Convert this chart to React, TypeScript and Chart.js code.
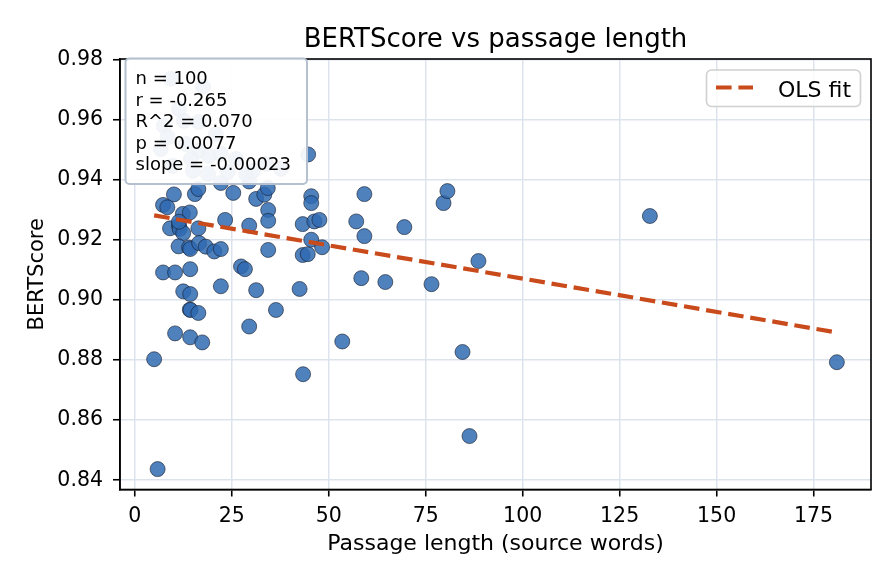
import { useEffect, useRef } from "react";
import { Chart, registerables } from "chart.js";

Chart.register(...registerables);

// passage length (source words) and BERTScore, one entry per passage
const passageLength = [
  10.1, 15.5, 16.4, 22.2, 25.4, 29.5, 31.3, 33.4, 34.3, 34.4,
  34.4, 45.5, 45.5, 59.2, 7.3, 8.4, 12.4, 14.2, 9.1, 11.4,
  11.6, 12.5, 16.4, 23.3, 29.5, 43.3, 46.3, 47.6, 57.1, 59.2,
  11.3, 14.0, 14.3, 16.6, 18.3, 20.5, 22.2, 34.4, 43.3, 44.6,
  45.5, 48.3, 7.3, 10.4, 14.3, 27.4, 28.4, 58.4, 12.5, 14.3,
  22.2, 31.3, 42.5, 14.2, 14.4, 16.4, 36.4, 29.5, 10.4, 14.3,
  17.4, 53.5, 5.0, 5.9, 44.7, 43.4, 64.6, 69.5, 76.5, 79.6,
  80.6, 84.5, 86.3, 88.6, 132.8, 181.0, 11.4,
  9.3, 17.6, 7.5, 12.7, 16.5, 8.5, 13.2, 16.5, 19.1, 22.2,
  9.8, 15.0, 18.9, 24.0, 28.7, 30.5, 11.4, 20.9, 26.1, 6.7,
  33.9, 14.5, 37.7,
];
const bertScore = [
  0.9352, 0.9353, 0.937, 0.939, 0.9357, 0.9395, 0.9337, 0.9351, 0.9373, 0.93,
  0.9264, 0.9346, 0.9323, 0.9353, 0.9317, 0.9309, 0.9287, 0.9292, 0.9239, 0.9248,
  0.9237, 0.9223, 0.9239, 0.9267, 0.9248, 0.9253, 0.9262, 0.9267, 0.9262, 0.9213,
  0.9179, 0.9175, 0.917, 0.919, 0.9178, 0.9162, 0.917, 0.9167, 0.915, 0.9153,
  0.9201, 0.9176, 0.9092, 0.9092, 0.9103, 0.9112, 0.9103, 0.9073, 0.9029, 0.902,
  0.9046, 0.9033, 0.9037, 0.8968, 0.8967, 0.8957, 0.8967, 0.8912, 0.8889, 0.8876,
  0.8859, 0.8862, 0.8803, 0.8437, 0.9485, 0.8753, 0.906, 0.9243, 0.9053, 0.9323,
  0.9363, 0.8827, 0.8547, 0.913, 0.928, 0.8793, 0.9261,
  0.9737, 0.971, 0.958, 0.9597, 0.9593, 0.9543, 0.952, 0.9497, 0.948, 0.9487,
  0.9447, 0.943, 0.942, 0.9427, 0.942, 0.943, 0.9637, 0.9553, 0.947, 0.9503,
  0.9453, 0.947, 0.9437,
];

// OLS fit line endpoints
const fitX = [5, 181];
const fitY = [0.9282, 0.8892];

const xTicks = [0, 25, 50, 75, 100, 125, 150, 175];
const yTicks = [0.84, 0.86, 0.88, 0.9, 0.92, 0.94, 0.96, 0.98];

const statLines = ["n = 100", "r = -0.265", "R^2 = 0.070", "p = 0.0077", "slope = -0.00023"];
const titleText = "BERTScore vs passage length";
const xLabel = "Passage length (source words)";
const yLabel = "BERTScore";
const legendLabel = "OLS fit";

const FONT = '"DejaVu Sans", sans-serif';
const FIT_COLOR = "#c94a1b";
const FIT_DASH = [15.6, 6.8];

const roundedBox = (ctx: CanvasRenderingContext2D, x: number, y: number, w: number, h: number, r: number) => {
  ctx.beginPath();
  ctx.moveTo(x + r, y);
  ctx.lineTo(x + w - r, y);
  ctx.arcTo(x + w, y, x + w, y + r, r);
  ctx.lineTo(x + w, y + h - r);
  ctx.arcTo(x + w, y + h, x + w - r, y + h, r);
  ctx.lineTo(x + r, y + h);
  ctx.arcTo(x, y + h, x, y + h - r, r);
  ctx.lineTo(x, y + r);
  ctx.arcTo(x, y, x + r, y, r);
  ctx.closePath();
};

const decorPlugin = {
  id: "decor",
  afterDraw(chart: any) {
    const { ctx, chartArea: a } = chart;
    const cx = (a.left + a.right) / 2;
    ctx.save();

    // spines
    ctx.strokeStyle = "#000";
    ctx.lineWidth = 1.6;
    ctx.strokeRect(a.left, a.top, a.right - a.left, a.bottom - a.top);

    // stats box (semi-transparent, points behind show faintly)
    roundedBox(ctx, 125.5, 58.5, 181.5, 125.5, 4);
    ctx.fillStyle = "rgba(255,255,255,0.93)";
    ctx.fill();
    ctx.strokeStyle = "#b4c0d0";
    ctx.lineWidth = 2;
    ctx.stroke();
    ctx.fillStyle = "#000";
    ctx.font = `18px ${FONT}`;
    ctx.textAlign = "left";
    ctx.textBaseline = "alphabetic";
    statLines.forEach((t, i) => ctx.fillText(t, 135.5, 84 + i * 21.6));

    // legend
    roundedBox(ctx, 706.5, 70, 154, 36.5, 5);
    ctx.fillStyle = "rgba(255,255,255,0.8)";
    ctx.fill();
    ctx.strokeStyle = "#d0d0d0";
    ctx.lineWidth = 1.6;
    ctx.stroke();
    ctx.beginPath();
    ctx.setLineDash(FIT_DASH);
    ctx.strokeStyle = FIT_COLOR;
    ctx.lineWidth = 4.2;
    ctx.moveTo(716, 87.5);
    ctx.lineTo(753, 87.5);
    ctx.stroke();
    ctx.setLineDash([]);
    ctx.fillStyle = "#000";
    ctx.font = `22px ${FONT}`;
    ctx.fillText(legendLabel, 778, 96.5);

    // title and axis labels
    ctx.textAlign = "center";
    ctx.font = `26px ${FONT}`;
    ctx.fillText(titleText, cx, 46.5);
    ctx.font = `22px ${FONT}`;
    ctx.fillText(xLabel, cx, 550);
    ctx.translate(43, (a.top + a.bottom) / 2);
    ctx.rotate(-Math.PI / 2);
    ctx.font = `21px ${FONT}`;
    ctx.fillText(yLabel, 0, 0);

    ctx.restore();
  },
};

export default function App() {
  const canvasRef = useRef<HTMLCanvasElement | null>(null);

  useEffect(() => {
    if (!canvasRef.current) return;

    const points = passageLength.map((x, i) => ({ x, y: bertScore[i] }));
    const fit = fitX.map((x, i) => ({ x, y: fitY[i] }));
    const tickFont = { family: FONT, size: 20.5 };
    const grid = {
      color: "#dde3ec",
      lineWidth: 1.5,
      tickColor: "#000",
      tickLength: 7,
      tickWidth: 1.6,
    };

    const chart = new Chart(canvasRef.current, {
      type: "scatter",
      data: {
        datasets: [
          {
            type: "line",
            label: legendLabel,
            data: fit,
            borderColor: FIT_COLOR,
            borderWidth: 4.2,
            borderDash: FIT_DASH,
            borderCapStyle: "butt",
            pointRadius: 0,
            fill: false,
            order: 0,
          } as any,
          {
            label: "passages",
            data: points,
            backgroundColor: "rgba(48,107,177,0.85)",
            borderColor: "rgba(20,25,40,0.75)",
            borderWidth: 0.8,
            pointRadius: 7.5,
            order: 1,
          },
        ],
      },
      options: {
        responsive: false,
        animation: false,
        devicePixelRatio: 1,
        events: [],
        layout: { padding: { top: 59, right: 25, bottom: 0, left: 0 } },
        plugins: {
          legend: { display: false },
          title: { display: false },
          tooltip: { enabled: false },
        },
        scales: {
          x: {
            type: "linear",
            min: -3.8,
            max: 189.8,
            afterBuildTicks: (s: any) => {
              s.ticks = xTicks.map((value) => ({ value }));
            },
            afterFit: (s: any) => {
              s.height = 94.5;
            },
            ticks: {
              color: "#000",
              font: tickFont,
              padding: 8,
              autoSkip: false,
              maxRotation: 0,
              callback: (v: any) => String(v),
            },
            grid,
            border: { color: "#000", width: 1.6 },
          },
          y: {
            type: "linear",
            min: 0.8369,
            max: 0.9803,
            afterBuildTicks: (s: any) => {
              s.ticks = yTicks.map((value) => ({ value }));
            },
            afterFit: (s: any) => {
              s.width = 120;
            },
            ticks: {
              color: "#000",
              font: tickFont,
              padding: 10,
              autoSkip: false,
              callback: (v: any) => Number(v).toFixed(2),
            },
            grid,
            border: { color: "#000", width: 1.6 },
          },
        },
      },
      plugins: [decorPlugin],
    });

    return () => chart.destroy();
  }, []);

  return (
    <div style={{ position: "fixed", left: 0, top: 0, width: 896, height: 584, background: "#fff" }}>
      <canvas ref={canvasRef} width={896} height={584} style={{ display: "block" }} />
    </div>
  );
}
